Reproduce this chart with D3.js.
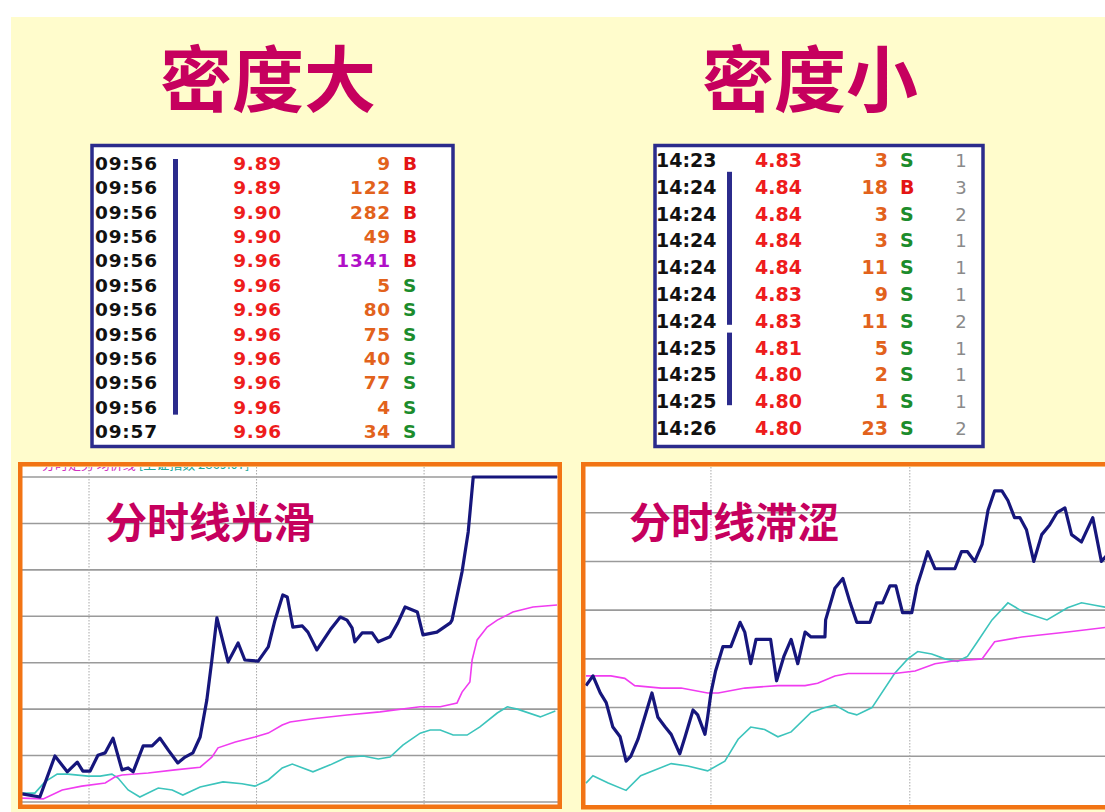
<!DOCTYPE html>
<html>
<head>
<meta charset="utf-8">
<script src="https://cdn.jsdelivr.net/npm/d3@7"></script>
<style>
  html, body { margin: 0; padding: 0; background: #ffffff; }
  svg { display: block; }
</style>
</head>
<body>
<svg id="chart" width="1105" height="812"></svg>
<script>
// ---------- tick-by-tick trade lists ----------
const denseTimes  = ["09:56","09:56","09:56","09:56","09:56","09:56","09:56","09:56","09:56","09:56","09:56","09:57"];
const densePrices = ["9.89","9.89","9.90","9.90","9.96","9.96","9.96","9.96","9.96","9.96","9.96","9.96"];
const denseVols   = [9, 122, 282, 49, 1341, 5, 80, 75, 40, 77, 4, 34];
const denseSides  = ["B","B","B","B","B","S","S","S","S","S","S","S"];

const sparseTimes  = ["14:23","14:24","14:24","14:24","14:24","14:24","14:24","14:25","14:25","14:25","14:26"];
const sparsePrices = ["4.83","4.84","4.84","4.84","4.84","4.83","4.83","4.81","4.80","4.80","4.80"];
const sparseVols   = [3, 18, 3, 3, 11, 9, 11, 5, 2, 1, 23];
const sparseSides  = ["S","B","S","S","S","S","S","S","S","S","S"];
const sparseCounts = [1, 3, 2, 1, 1, 1, 2, 1, 1, 1, 2];

const titles = ["密度大", "密度小"];
const chartLabels = ["分时线光滑", "分时线滞涩"];

// ---------- intraday lines, left panel (minutes from panel edge, price) ----------
const leftMin = [0,3.2,5.9,8.1,9.9, 10.9,12.2,13.6,14.9,16.3, 17.9,19.0,19.9,21.7,23.3, 24.7,26.2,27.9,29.2,30.6,
  31.9,33.1,34.0,34.9,36.9, 38.7,39.9,42.3,44.1,45.3, 46.7,47.5,48.5,50.2,51.2, 52.8,55.2,57.0,58.2,59.1,
  59.6,60.9,62.7,63.8,65.9, 67.3,68.6,70.8,71.8,74.3, 76.7,77.0,78.8,79.9,80.8, 95.8];
const leftPrice = [9.141,9.133,9.239,9.198,9.223, 9.200,9.200,9.241,9.247,9.285, 9.203,9.208,9.198,9.265,9.265,
  9.285,9.254,9.221,9.236,9.247, 9.288,9.384,9.487,9.596,9.482, 9.531,9.487,9.484,9.521,9.590,
  9.655,9.650,9.572,9.575,9.559, 9.513,9.565,9.598,9.590,9.570, 9.534,9.557,9.557,9.534,9.547,
  9.583,9.624,9.611,9.552,9.559, 9.583,9.590,9.715,9.818,9.960, 9.960];

const leftAvgMin = [0,3.8,7.2,10.7,14.9, 16.7,17.9,22.6,27.4,31.9, 34.0,35.1,38.2,41.7,44.1, 46.6,48.0,52.1,58.2,64.1,
  71.3,74.9,77.9,78.8,80.2, 80.6,81.5,83.3,85.1,87.9, 91.5,95.8];
const leftAvg = [9.130,9.128,9.151,9.161,9.169, 9.185,9.190,9.195,9.203,9.210, 9.236,9.260,9.275,9.288,9.298,
  9.319,9.327,9.335,9.345,9.353, 9.366,9.366,9.376,9.404,9.430, 9.487,9.539,9.572,9.590,9.611, 9.624,9.629];

const leftIdxMin = [0,2.3,4.1,6.3,8.2, 11.8,14.0,16.1,17.2,19.0, 21.1,24.4,26.9,28.8,31.9, 36.0,39.4,41.7,44.1,46.6,
  48.4,52.1,55.2,58.2,61.1, 63.8,65.9,68.2,71.3,73.1, 74.9,77.2,79.7,82.0,85.1, 86.9,88.7,92.8,95.5];
const leftIdx = [9.143,9.143,9.172,9.192,9.192, 9.187,9.187,9.192,9.182,9.151, 9.133,9.156,9.151,9.138,9.159,
  9.172,9.167,9.161,9.177,9.208, 9.218,9.198,9.216,9.236,9.239, 9.231,9.236,9.267,9.298,9.306,
  9.306,9.293,9.293,9.314,9.350, 9.366,9.360,9.340,9.355];

const leftGrid = [9.12, 9.24, 9.36, 9.48, 9.60, 9.72, 9.84, 9.96];
const leftTimeMarks = [12, 42, 72];

// ---------- intraday lines, right panel ----------
const rightMin = [0.15,1.2,2.3,3.2,4.2, 5.3,6.2,6.9,8.0,9.0, 10.1,11.0,12.1,13.0,14.3, 15.1,16.3,17.0,18.1,18.5,
  19.0,19.7,20.8,22.0,23.4, 24.1,25.0,25.8,28.0,28.9, 30.0,31.1,32.1,33.2,34.1, 36.2,36.3,37.7,38.9,40.0,
  41.0,43.0,44.0,44.9,46.0, 46.9,47.9,49.3,50.1,50.8, 51.7,52.8,55.8,56.8,57.7, 58.8,59.9,60.8,61.8,62.9,
  63.8,64.8,65.6,66.6,67.7, 68.9,70.1,71.2,72.4,73.4, 74.9,76.6,77.9,78.9];
const rightPrice = [4.749,4.753,4.746,4.742,4.732, 4.728,4.718,4.720,4.727,4.736, 4.746,4.736,4.732,4.729,4.721,
  4.728,4.739,4.737,4.729,4.736, 4.746,4.755,4.765,4.765,4.775, 4.771,4.758,4.768,4.768,4.751,
  4.761,4.768,4.758,4.771,4.769, 4.769,4.776,4.789,4.793,4.783, 4.775,4.775,4.783,4.783,4.790,
  4.790,4.779,4.779,4.790,4.796, 4.804,4.797,4.797,4.804,4.804, 4.800,4.807,4.821,4.829,4.829,
  4.825,4.818,4.818,4.813,4.800, 4.811,4.815,4.820,4.822,4.811, 4.808,4.818,4.800,4.803];

const rightAvgMin = [0.15,3.9,6.0,7.5,11.5, 14.5,18.5,20.1,24.1,29.1, 33.2,35.1,37.7,39.7,46.7,
  49.8,52.8,55.3,59.9,61.8, 65.9,72.8,78.9];
const rightAvg = [4.753,4.753,4.752,4.749,4.748, 4.748,4.746,4.746,4.748,4.749, 4.749,4.750,4.753,4.754,4.754,
  4.755,4.758,4.759,4.760,4.767, 4.769,4.771,4.773];

const rightIdxMin = [0.15,1.2,3.5,6.2,8.4, 13.0,15.5,18.5,21.1,23.1, 25.0,27.1,29.1,31.1,34.1, 36.2,37.7,39.7,41.0,43.3,
  46.7,48.7,50.2,52.3,54.3, 56.2,57.7,59.2,61.4,63.8, 66.3,69.7,72.8,74.9,76.9, 78.9];
const rightIdx = [4.709,4.712,4.709,4.706,4.712, 4.717,4.716,4.714,4.718,4.727, 4.732,4.731,4.728,4.730,4.738,
  4.740,4.741,4.738,4.737,4.740, 4.754,4.760,4.763,4.762,4.760, 4.759,4.761,4.767,4.776,4.783,
  4.779,4.776,4.781,4.783,4.782, 4.781];

const rightGrid = [4.72, 4.74, 4.76, 4.78, 4.80, 4.82];
const rightTimeMarks = [19, 49];

// ---------- drawing ----------
const svg = d3.select("#chart");
const CJK = "'Noto Sans CJK SC', 'Noto Sans', sans-serif";
const TAPE = "'DejaVu Sans', Verdana, sans-serif";
const C = {
  page: "#fffccc", title: "#c6005e", navy: "#2b2b8c", frame: "#f27414",
  price: "#ee1c1c", vol: "#e2621c", bigVol: "#b010c8", buy: "#e41414", sell: "#1c8c2c",
  count: "#8a8a8a", line: "#16167c", avg: "#f03cf0", idx: "#3cc4bc", grid: "#9a9a9a"
};

svg.append("rect").attr("x", 11).attr("y", 17).attr("width", 1094).attr("height", 795).attr("fill", C.page);

// headings
svg.selectAll("text.title").data(titles).join("text")
  .attr("class", "title")
  .attr("x", (d, i) => [268, 810][i]).attr("y", 74)
  .attr("text-anchor", "middle").attr("dominant-baseline", "central")
  .attr("font-family", CJK).attr("font-weight", 700).attr("font-size", 72)
  .attr("fill", C.title).text(d => d);

// tick tables
function drawTape(cfg, times, prices, vols, sides, counts) {
  const g = svg.append("g");
  g.append("rect").attr("x", cfg.x).attr("y", cfg.y).attr("width", cfg.w).attr("height", cfg.h)
    .attr("fill", "#ffffff").attr("stroke", C.navy).attr("stroke-width", 3.5);
  const row = d3.scaleLinear().domain([0, times.length - 1]).range([cfg.row0, cfg.row1]);
  const font = (sel) => sel.attr("font-family", TAPE).attr("font-weight", 700)
    .attr("font-size", cfg.fs).attr("letter-spacing", cfg.ls);

  g.selectAll("text.t").data(times).join("text").attr("class", "t").call(font)
    .attr("x", cfg.timeX).attr("y", (d, i) => row(i)).attr("fill", "#111111").text(d => d);
  g.selectAll("text.p").data(prices).join("text").attr("class", "p").call(font)
    .attr("x", cfg.priceX).attr("y", (d, i) => row(i)).attr("text-anchor", "end")
    .attr("fill", C.price).text(d => d);
  g.selectAll("text.v").data(vols).join("text").attr("class", "v").call(font)
    .attr("x", cfg.volX).attr("y", (d, i) => row(i)).attr("text-anchor", "end")
    .attr("fill", d => d >= 500 ? C.bigVol : C.vol).text(d => d);
  g.selectAll("text.s").data(sides).join("text").attr("class", "s").call(font)
    .attr("x", cfg.sideX).attr("y", (d, i) => row(i))
    .attr("fill", d => d === "B" ? C.buy : C.sell).text(d => d);
  if (counts) {
    g.selectAll("text.n").data(counts).join("text").attr("class", "n")
      .attr("font-family", TAPE).attr("font-size", cfg.fs - 1)
      .attr("x", cfg.countX).attr("y", (d, i) => row(i)).attr("text-anchor", "middle")
      .attr("fill", C.count).text(d => d);
  }
  // bracket bars marking runs of trades within the same minute
  const runs = [];
  let start = 0;
  for (let i = 1; i <= times.length; i++) {
    if (i === times.length || times[i] !== times[start]) {
      if (i - 1 > start) runs.push([start, i - 1]);
      start = i;
    }
  }
  g.selectAll("rect.run").data(runs).join("rect").attr("class", "run")
    .attr("x", cfg.barX).attr("width", 5)
    .attr("y", d => row(d[0]) + cfg.barTop)
    .attr("height", d => row(d[1]) + cfg.barBot - (row(d[0]) + cfg.barTop))
    .attr("fill", C.navy);
}

drawTape({ x: 92, y: 145.5, w: 361, h: 301, row0: 170, row1: 438, fs: 18.5, ls: 0.8,
  timeX: 95, priceX: 282, volX: 391, sideX: 403, barX: 173, barTop: -11, barBot: 1 },
  denseTimes, densePrices, denseVols, denseSides, null);

drawTape({ x: 655, y: 145.5, w: 328, h: 301, row0: 167, row1: 435, fs: 19, ls: 0,
  timeX: 656, priceX: 802, volX: 888, sideX: 900, countX: 961, barX: 727, barTop: -22, barBot: -3 },
  sparseTimes, sparsePrices, sparseVols, sparseSides, sparseCounts);

// intraday panels
function drawPanel(cfg) {
  const g = svg.append("g");
  const id = "clip" + cfg.key;
  svg.append("defs").append("clipPath").attr("id", id)
    .append("rect").attr("x", cfg.x0).attr("y", cfg.y0).attr("width", cfg.x1 - cfg.x0).attr("height", cfg.y1 - cfg.y0);
  g.append("rect").attr("x", cfg.x0).attr("y", cfg.y0).attr("width", cfg.x1 - cfg.x0).attr("height", cfg.y1 - cfg.y0)
    .attr("fill", "#ffffff");

  const inner = g.append("g").attr("clip-path", `url(#${id})`);
  const x = d3.scaleLinear().domain(cfg.xDomain).range(cfg.xRange);
  const y = d3.scaleLinear().domain(cfg.yDomain).range(cfg.yRange);

  if (cfg.header) {
    const h = inner.append("text").attr("x", cfg.x0 + 4).attr("y", cfg.y0 + 1.5)
      .attr("font-family", CJK).attr("font-size", 13);
    cfg.header.forEach(p => h.append("tspan").attr("fill", p[1]).text(p[0]));
  }

  inner.selectAll("line.h").data(cfg.grid).join("line").attr("class", "h")
    .attr("x1", cfg.x0).attr("x2", cfg.x1).attr("y1", d => y(d)).attr("y2", d => y(d))
    .attr("stroke", C.grid).attr("stroke-width", 1.6);
  inner.selectAll("line.v").data(cfg.marks).join("line").attr("class", "v")
    .attr("x1", d => x(d)).attr("x2", d => x(d)).attr("y1", cfg.y0).attr("y2", cfg.y1)
    .attr("stroke", "#a8a8a8").attr("stroke-width", 1).attr("stroke-dasharray", "1.5,1.5");

  const path = (xs, ys) => d3.line().x(i => x(xs[i])).y(i => y(ys[i]))(d3.range(xs.length));
  inner.append("path").attr("d", path(cfg.idx[0], cfg.idx[1]))
    .attr("fill", "none").attr("stroke", C.idx).attr("stroke-width", 1.6);
  inner.append("path").attr("d", path(cfg.avg[0], cfg.avg[1]))
    .attr("fill", "none").attr("stroke", C.avg).attr("stroke-width", 1.6);
  inner.append("path").attr("d", path(cfg.price[0], cfg.price[1]))
    .attr("fill", "none").attr("stroke", C.line).attr("stroke-width", 3.2)
    .attr("stroke-linejoin", "round");

  g.append("text").attr("x", cfg.labelX).attr("y", 519).attr("dominant-baseline", "central")
    .attr("font-family", CJK).attr("font-weight", 700).attr("font-size", 42)
    .attr("fill", C.title).text(cfg.label);

  g.append("rect").attr("x", cfg.fx).attr("y", cfg.fy).attr("width", cfg.fw).attr("height", cfg.fh)
    .attr("fill", "none").attr("stroke", C.frame).attr("stroke-width", 4.5);
}

drawPanel({
  key: "L", x0: 22, x1: 558, y0: 467, y1: 806,
  fx: 20.25, fy: 464.25, fw: 539.5, fh: 342.5,
  xDomain: [0, 95.8], xRange: [22, 557],
  yDomain: [9.12, 9.96], yRange: [802, 477],
  grid: leftGrid, marks: leftTimeMarks,
  price: [leftMin, leftPrice], avg: [leftAvgMin, leftAvg], idx: [leftIdxMin, leftIdx],
  label: chartLabels[0], labelX: 105,
  header: [["▪ ", "#333366"], ["分时走势 均价线 ", "#d030c0"], ["[上证指数 2869.07]", "#20a898"]]
});

drawPanel({
  key: "R", x0: 585, x1: 1105, y0: 467, y1: 806,
  fx: 583.25, fy: 464.25, fw: 540, fh: 343,
  xDomain: [0, 78.9], xRange: [585, 1108],
  yDomain: [4.70, 4.84], yRange: [805, 464],
  grid: rightGrid, marks: rightTimeMarks,
  price: [rightMin, rightPrice], avg: [rightAvgMin, rightAvg], idx: [rightIdxMin, rightIdx],
  label: chartLabels[1], labelX: 629,
  header: null
});
</script>
</body>
</html>
